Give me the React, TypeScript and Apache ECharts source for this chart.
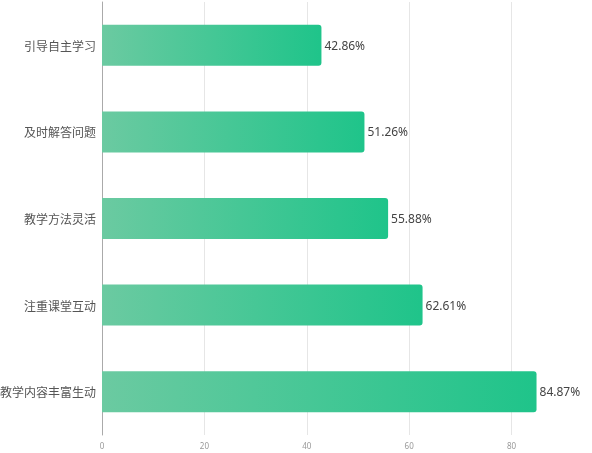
import React, { useEffect, useRef } from "react";
import * as echarts from "echarts";

const categories = ["引导自主学习", "及时解答问题", "教学方法灵活", "注重课堂互动", "教学内容丰富生动"];
const values = [42.86, 51.26, 55.88, 62.61, 84.87];

export default function App() {
  const ref = useRef<HTMLDivElement>(null);
  useEffect(() => {
    const chart = echarts.init(ref.current!, null, { renderer: "svg" });
    chart.setOption({
      animation: false,
      grid: { left: 102, right: -22, top: 2, bottom: 18, containLabel: false, outerBoundsMode: "none" },
      xAxis: {
        type: "value",
        min: 0,
        max: 100,
        interval: 20,
        axisLine: { show: false },
        axisTick: { show: false },
        axisLabel: { color: "#999", fontSize: 8, margin: 6, fontFamily: "Noto Sans", showMaxLabel: false },
        splitLine: { show: true, lineStyle: { color: "#e6e6e6", width: 1 } },
      },
      yAxis: {
        type: "category",
        inverse: true,
        data: categories,
        axisLine: { show: true, lineStyle: { color: "#aaa", width: 1 } },
        axisTick: { show: false },
        axisLabel: { color: "#555", fontSize: 12, margin: 6, fontFamily: "Noto Sans CJK SC" },
      },
      series: [
        {
          type: "bar",
          data: values,
          barWidth: 41,
          itemStyle: {
            borderRadius: [0, 3, 3, 0],
            color: new echarts.graphic.LinearGradient(0, 0, 1, 0, [
              { offset: 0, color: "#6bcaa1" },
              { offset: 1, color: "#1fc48a" },
            ]),
          },
          label: {
            show: true,
            position: "right",
            distance: 3,
            color: "#444",
            fontSize: 12,
            fontFamily: "Noto Sans",
            formatter: (p: any) => p.value.toFixed(2) + "%",
          },
        },
      ],
    });
    return () => chart.dispose();
  }, []);
  return <div ref={ref} style={{ position: "fixed", left: 0, top: 0, width: 592, height: 453 }} />;
}
